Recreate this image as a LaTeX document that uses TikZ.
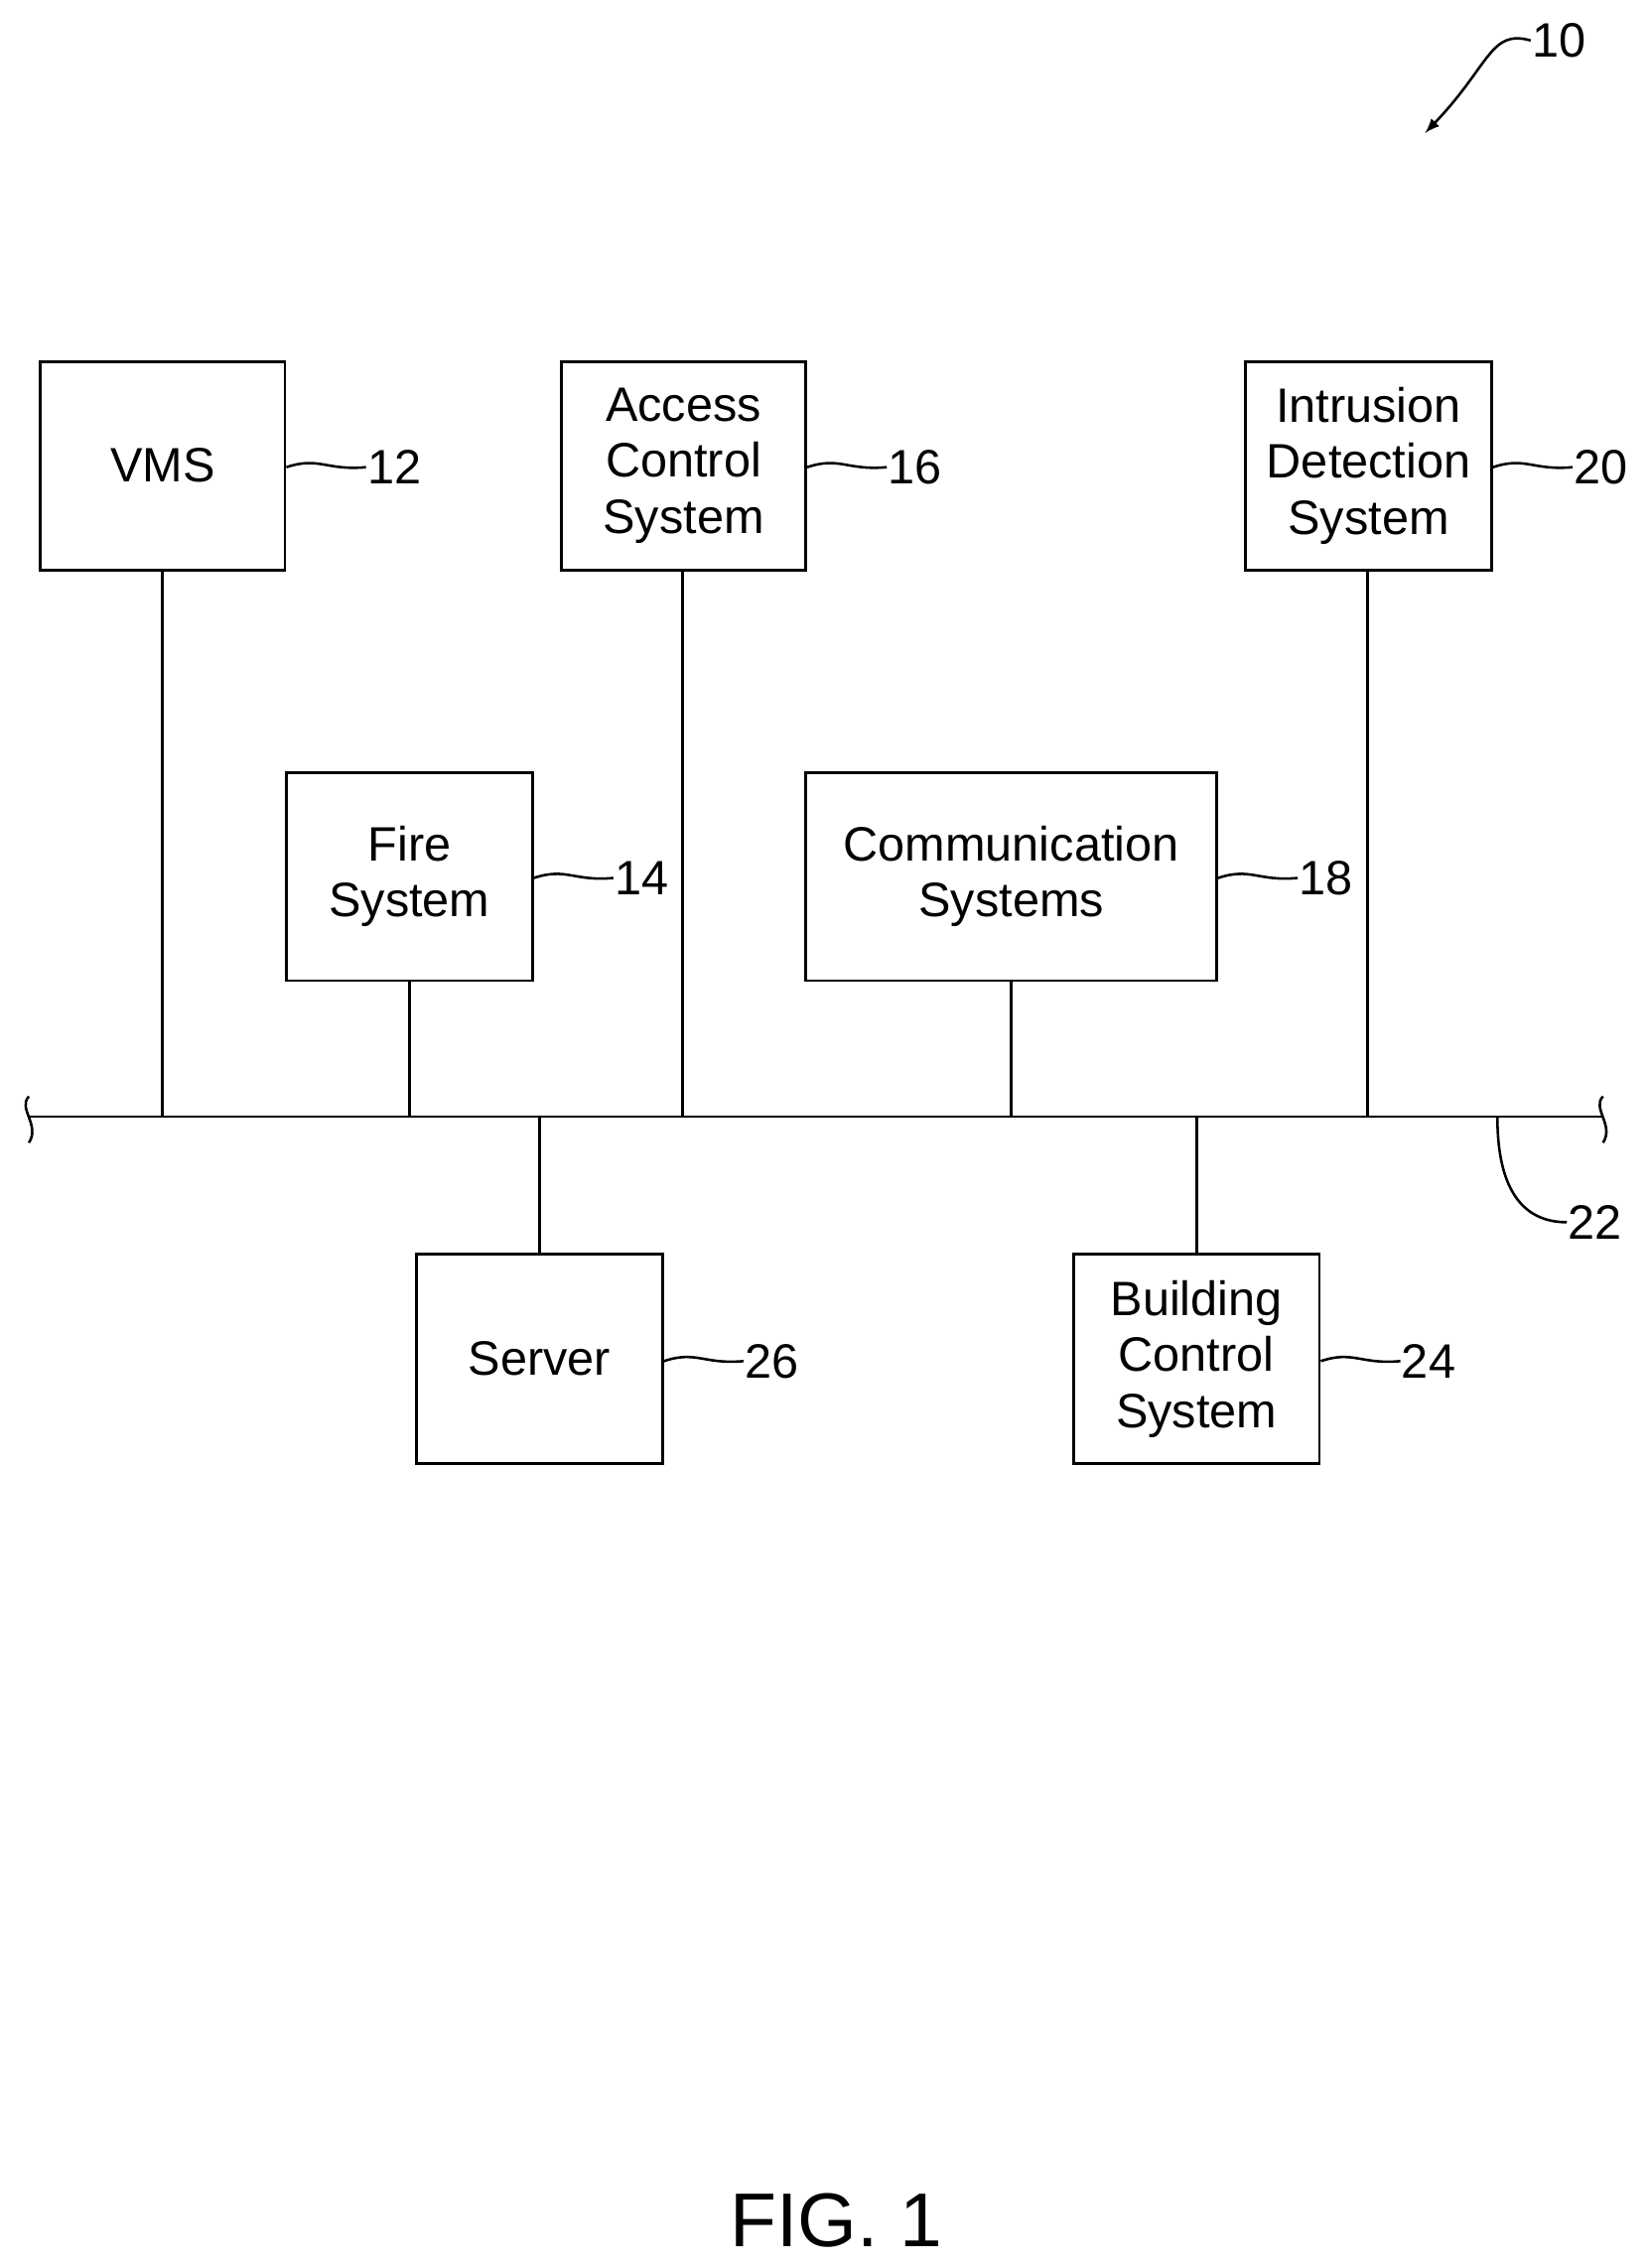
\documentclass[tikz,border=0pt]{standalone}
\usepackage{fontspec}
\setmainfont{Liberation Sans}
\begin{document}
\begin{tikzpicture}[x=0.02cm,y=-0.02cm,line width=1.1pt,
  box/.style={draw,rectangle,inner sep=0pt,align=center,font=\fontsize{19}{22}\selectfont},
  lbl/.style={font=\fontsize{19}{22}\selectfont,inner sep=0pt,anchor=west},
  lead/.style={line width=1pt}]
\useasboundingbox (0,0) rectangle (1140,1568);
% boxes
\node[box,minimum width=3.38cm,minimum height=2.88cm] (vms) at (112.5,322) {VMS};
\node[box,minimum width=3.38cm,minimum height=2.88cm] (acs) at (472.5,322) {Access\\Control\\System};
\node[box,minimum width=3.4cm,minimum height=2.88cm] (ids) at (946,322) {Intrusion\\Detection\\System};
\node[box,minimum width=3.4cm,minimum height=2.88cm] (fire) at (283,606) {Fire\\System};
\node[box,minimum width=5.68cm,minimum height=2.88cm] (comm) at (699,606) {Communication\\Systems};
\node[box,minimum width=3.4cm,minimum height=2.9cm] (srv) at (373,939.5) {Server};
\node[box,minimum width=3.4cm,minimum height=2.9cm] (bcs) at (827,939.5) {Building\\Control\\System};
% bus
\coordinate (bl) at (20,772);
\coordinate (br) at (1108,772);
\draw (bl) -- (br);
\draw[lead] (20,758) .. controls (12,766) and (28,778) .. (20,790);
\draw[lead] (1108,758) .. controls (1100,766) and (1116,778) .. (1108,790);
% drops
\foreach \n/\x in {vms/112,acs/472,ids/945,fire/283,comm/699}{
  \coordinate (b\n) at (\x,772);
  \draw (\n.south -| b\n) -- (b\n);}
\foreach \n/\x in {srv/373,bcs/827}{
  \coordinate (b\n) at (\x,772);
  \draw (\n.north -| b\n) -- (b\n);}
% labels with leaders
\foreach \n/\t/\y in {vms/12/323,acs/16/323,ids/20/323,fire/14/607,comm/18/607,srv/26/941,bcs/24/941}{
  \node[lbl] (l\n) at ([xshift=1.1cm]\n.east |- 0,\y) {\t};
  \draw[lead] (\n.east |- 0,\y) .. controls ([xshift=0.45cm,yshift=0.15cm]\n.east |- 0,\y) and ([xshift=0.55cm,yshift=-0.05cm]\n.east |- 0,\y) .. (l\n.west);}
% bus label
\node[lbl] (l22) at (1083,845) {22};
\coordinate (t22) at (1035,772);
\draw[lead] (t22) .. controls (1035,800) and (1040,845) .. (l22.west);
% figure label
\node[lbl] (l10) at (1058,28) {10};
\coordinate (a10) at (985,92);
\draw[lead,-latex] (l10.west) .. controls (1030,20) and (1030,45) .. (a10);
\node[font=\fontsize{30}{34}\selectfont] (fig) at (578,1535) {FIG. 1};
\end{tikzpicture}
\end{document}
